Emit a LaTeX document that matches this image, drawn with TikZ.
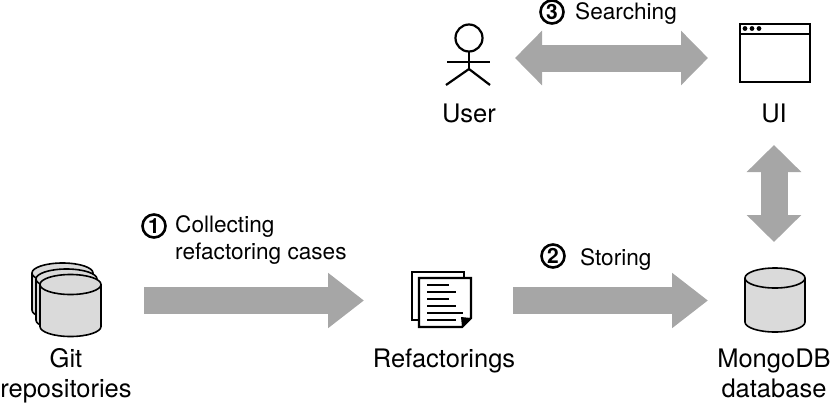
\documentclass[tikz,border=0pt]{standalone}
\usepackage{fontspec}
\setmainfont{TeX Gyre Heros}
\usetikzlibrary{arrows.meta}
\definecolor{arrowgray}{HTML}{A6A6A6}
\definecolor{cylgray}{HTML}{DADADA}
\tikzset{
  label big/.style={anchor=base,inner sep=0pt,font=\fontsize{25.5}{30}\selectfont},
  label small/.style={anchor=base west,inner sep=0pt,font=\fontsize{22.6}{27}\selectfont},
  num/.style={circle,draw=black,line width=2.6pt,inner sep=0pt,minimum size=23pt,font=\bfseries\fontsize{21}{22}\selectfont},
  block/.style={line width=27pt,draw=arrowgray,-{Triangle[length=36pt,width=53pt,fill=arrowgray]}},
  block both/.style={line width=27pt,draw=arrowgray,{Triangle[length=27pt,width=53pt,fill=arrowgray]}-{Triangle[length=27pt,width=53pt,fill=arrowgray]}},
  ink/.style={draw=black,line width=1.6pt},
  iconline/.style={draw=black,line width=1.8pt},
}
\newcommand{\cyl}[4]{% left x, right x, top-ellipse centre y, bottom-ellipse centre y
  \pgfmathsetmacro{\cylcx}{(#1+#2)/2}\pgfmathsetmacro{\cylrx}{(#2-#1)/2}
  \filldraw[ink,fill=cylgray,line join=round] (#1,#3) -- (#1,#4) arc[start angle=180,end angle=360,x radius=\cylrx pt,y radius=10pt] -- (#2,#3);
  \filldraw[ink,fill=cylgray] (\cylcx,#3) ellipse[x radius=\cylrx pt,y radius=10pt];
}
\begin{document}
\begin{tikzpicture}[x=1pt,y=-1pt]
\useasboundingbox (0,0) rectangle (831,410);

% anchors for the connectors
\coordinate (gitout) at (144,300.5);
\coordinate (refin) at (364,300.5);
\coordinate (refout) at (513,300.5);
\coordinate (dbin) at (708,300.5);
\coordinate (userout) at (515,58);
\coordinate (uiin) at (708,58);
\coordinate (uiout) at (774,145);
\coordinate (dbtop) at (774,242);

% block arrows
\draw[block] (gitout) -- (refin);
\draw[block] (refout) -- (dbin);
\draw[block both] (userout) -- (uiin);
\draw[block both] (uiout) -- (dbtop);

% git repositories
\cyl{32}{93}{273}{310}
\cyl{36}{97}{279}{320}
\cyl{40}{101}{284.5}{326.5}
\node[label big] (gitlabel) at (66,367) {Git};
\node[label big] (repolabel) at (66,397) {repositories};

% refactorings
\draw[line width=2.2pt,draw=black,fill=white] (412,272) rectangle (464,320);
\draw[line width=2.2pt,draw=black,fill=white,line join=miter] (419,278) -- (471,278) -- (471,318) -- (462,327) -- (419,327) -- cycle;
\fill[black] (471,318) -- (462,327) -- (461,317) -- cycle;
\draw[iconline] (427,285) -- (449,285);
\draw[iconline] (427,292) -- (456,292);
\draw[iconline] (427,299) -- (449,299);
\draw[iconline] (427,306) -- (456,306);
\draw[iconline] (427,313) -- (463,313);
\draw[iconline] (427,320) -- (456,320);
\node[label big] (reflabel) at (444,367) {Refactorings};

% database
\cyl{745}{805}{278}{322}
\node[label big] (dblabel) at (774,367) {MongoDB};
\node[label big] (dblabel2) at (774,397) {database};

% user
\draw[ink,line width=2.2pt] (469,38) circle[radius=13.5pt];
\draw[ink,line width=2.2pt] (469,51.5) -- (469,69);
\draw[ink,line width=2.2pt] (447,62) -- (490,62);
\draw[ink,line width=2.2pt] (446,85) -- (469,69) -- (490,85);
\node[label big] (userlabel) at (469,122) {User};

% UI window
\draw[draw=black,line width=2.4pt,fill=white] (740,24) rectangle (810,82);
\draw[draw=black,line width=2.4pt] (740,34) -- (810,34);
\fill[black] (745,28.5) circle[radius=2.4pt] (752,28.5) circle[radius=2.4pt] (759,28.5) circle[radius=2.4pt];
\node[label big] (uilabel) at (774,122) {UI};

% step labels
\node[num] (n1) at (154,226) {1};
\node[label small] (collect) at (175,232) {Collecting};
\node[label small] (cases) at (175,259) {refactoring cases};
\node[num] (n2) at (553,256) {2};
\node[label small] (storing) at (580,265) {Storing};
\node[num] (n3) at (552,12) {3};
\node[label small] (search) at (575,19) {Searching};
\end{tikzpicture}
\end{document}
